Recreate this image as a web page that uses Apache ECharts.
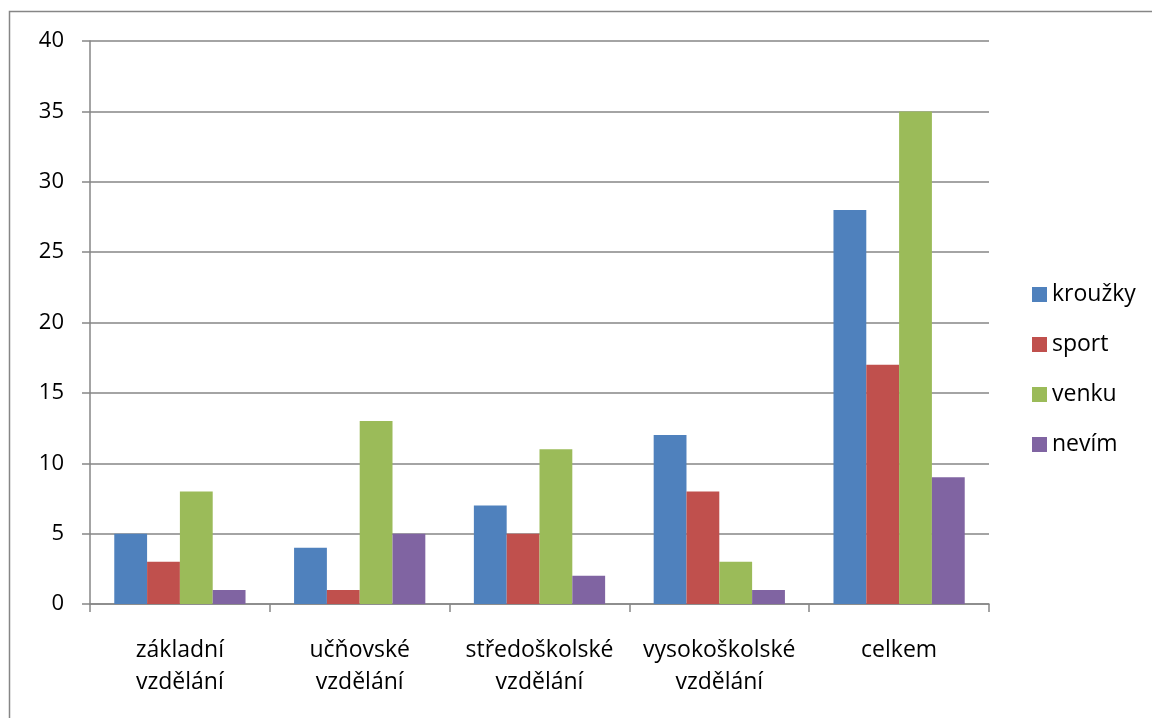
<!DOCTYPE html>
<html>
<head>
<meta charset="utf-8">
<script src="https://cdn.jsdelivr.net/npm/echarts@6/dist/echarts.min.js"></script>
<style>html,body{margin:0;padding:0;background:#fff}#c{width:1152px;height:718px}</style>
</head>
<body>
<div id="c"></div>
<script>
const categories = ['základní\nvzdělání', 'učňovské\nvzdělání', 'středoškolské\nvzdělání', 'vysokoškolské\nvzdělání', 'celkem'];
const seriesNames = ['kroužky', 'sport', 'venku', 'nevím'];
const krouzky = [5, 4, 7, 12, 28];
const sport = [3, 1, 5, 8, 17];
const venku = [8, 13, 11, 3, 35];
const nevim = [1, 5, 2, 1, 9];
const colors = ['#4F81BD', '#C0504D', '#9BBB59', '#8064A2'];
const font = '"Open Sans", "Noto Sans", sans-serif';

const chart = echarts.init(document.getElementById('c'));
const values = [krouzky, sport, venku, nevim];
chart.setOption({
  animation: false,
  color: colors,
  textStyle: { fontFamily: font },
  graphic: [{
    type: 'rect', silent: true,
    shape: { x: 9.5, y: 11.5, width: 1200, height: 800 },
    style: { fill: 'none', stroke: '#868686', lineWidth: 1.5 }
  }],
  grid: { left: 90, top: 41, right: 163, bottom: 114, containLabel: false },
  legend: {
    orient: 'vertical', left: 1032, top: 283, padding: 0,
    itemWidth: 15, itemHeight: 15, itemGap: 27,
    icon: 'rect',
    textStyle: { fontSize: 23, color: '#000', fontFamily: font },
    data: seriesNames
  },
  xAxis: {
    type: 'category', data: categories,
    axisLine: { lineStyle: { color: '#868686', width: 1.5 } },
    axisTick: { show: true, length: 8, lineStyle: { color: '#868686', width: 1.5 } },
    axisLabel: { color: '#000', fontSize: 23, lineHeight: 32, margin: 30, fontFamily: font, interval: 0 }
  },
  yAxis: {
    type: 'value', min: 0, max: 40, interval: 5,
    axisLine: { show: true, lineStyle: { color: '#868686', width: 1.5 } },
    axisTick: { show: true, length: 8, lineStyle: { color: '#868686', width: 1.5 } },
    splitLine: { lineStyle: { color: '#868686', width: 1.5 } },
    axisLabel: { color: '#000', fontSize: 22, margin: 26, fontFamily: font }
  },
  series: seriesNames.map((n, i) => ({
    name: n, type: 'bar', data: values[i],
    barGap: '0%', barCategoryGap: '27%',
    itemStyle: { color: colors[i] }
  }))
});
</script>
</body>
</html>
